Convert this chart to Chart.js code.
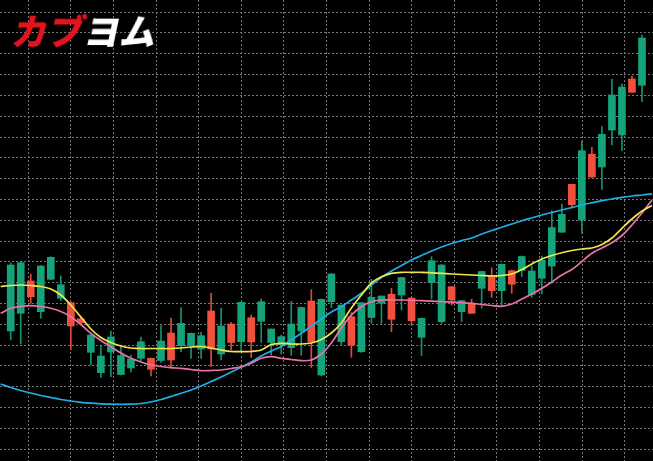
<!DOCTYPE html>
<html lang="ja">
<head>
<meta charset="utf-8">
<title>カブヨム チャート</title>
<script src="https://cdn.jsdelivr.net/npm/chart.js@4.4.1/dist/chart.umd.min.js"></script>
<style>
    html, body { margin: 0; padding: 0; background: #000; overflow: hidden; }
    #contenedor { position: relative; width: 653px; height: 461px; }
    #logo {
        position: absolute; left: 10px; top: 11px;
        font-family: "Noto Sans CJK JP", sans-serif; font-weight: 900;
        font-size: 36px; line-height: 1; white-space: nowrap;
        transform: skewX(-12deg); transform-origin: left bottom;
    }
    #logo .rojo { color: #e3141e; }
    #logo .blanco { color: #ffffff; }
</style>
</head>
<body>
<div id="contenedor">
    <canvas id="grafico"></canvas>
    <div id="logo"><span class="rojo">カブ</span><span class="blanco">ヨム</span></div>
</div>
<script>
// velas (una por posición, de izquierda a derecha)
const aperturas = [130, 147.7, 180, 149.3, 181.7, 162.7, 158.3, 142.3, 108.7, 88.3, 109, 86.5, 93, 102.7, 102.7, 100.5,
    128, 115.3, 115.3, 112, 150, 107, 137, 119.3, 143.3, 139.7, 118.5, 116.3, 113.3, 130, 160, 86,
    159.3, 119.3, 144.3, 109.3, 143.5, 157.7, 166.8, 166, 163, 123.7, 178.3, 139.3, 174.3, 149.3, 157.7, 172.7,
    185.5, 170.3, 190.3, 190.5, 166.5, 182.7, 195, 228.8, 276.7, 241, 306.8, 294, 331, 326, 382, 375.7];
const maximos = [198, 199, 187, 195.5, 204.3, 185, 159.3, 145, 127.7, 116, 130, 116, 106, 124, 103, 135.3,
    143, 153.3, 128, 128.7, 167.7, 153, 138.5, 159, 146, 162, 132, 126, 159.7, 154, 171.3, 162,
    187.5, 156, 148.3, 158.5, 181.7, 165, 172.7, 183.7, 163.5, 143, 204.5, 196.5, 174.5, 160.5, 161.7, 190,
    193.2, 197, 191, 205, 195, 205, 250.3, 257, 277, 320, 313.7, 334.3, 381.7, 377, 385, 426];
const minimos = [121, 117, 157.7, 142.7, 181.5, 160.3, 111.7, 137, 96, 83.7, 84.3, 86, 89, 100, 85, 98.7,
    93, 109.3, 102.7, 102.7, 94.5, 101, 111, 110, 103.5, 118.5, 106, 107, 105.7, 105.7, 93.5, 85,
    153.3, 116, 103.7, 108.5, 137.7, 137.7, 129.3, 151, 136, 105.5, 162, 137.7, 156, 139.3, 147.5, 152.7,
    163.5, 154.7, 167.7, 184.5, 163.5, 167, 178, 228.5, 253, 227.7, 283.5, 271.7, 316, 310.3, 368.5, 359.3];
const cierres = [196, 198.3, 164.3, 195, 203.7, 176.3, 135, 138.3, 126, 105, 124, 105.5, 102, 119.3, 91.7, 120,
    101, 137.7, 127.7, 125.3, 112, 135, 118.5, 158.7, 119, 159.3, 132, 124.3, 137, 153.5, 119.3, 161.7,
    187, 156, 116, 158.3, 163.7, 165, 141.7, 183.5, 140.3, 142.7, 200.3, 196, 161, 160.3, 147.7, 189.5,
    170.3, 196.7, 176.8, 204.5, 190, 200.7, 233.5, 246.7, 256.3, 310.3, 284, 326.7, 366, 374, 368.7, 423];

// medias móviles, desde la posición -1 hasta la 64
const mediaCorta = [174.5, 175.5, 176, 175.5, 174.5, 172, 166, 156, 144, 132, 123.5, 118.5, 115, 113, 112.5, 112.5,
    112.5, 112.5, 113, 114, 114.5, 113, 111, 109.5, 109.3, 109.5, 111, 116.5, 117.7, 117, 117, 118,
    121.5, 128, 138, 153, 166, 178, 184.3, 187.7, 188.7, 188.7, 188.7, 188.2, 187.7, 187, 186.5, 186,
    185.5, 185, 185.5, 187, 191.5, 197, 202, 205.5, 208.3, 210.5, 212, 213, 216.5, 223, 232.7, 242, 250, 255.5];
const mediaMedia = [147.7, 152.7, 154.5, 155.3, 154.5, 152.7, 149.5, 144.3, 136.5, 127.7, 120.5, 114.3, 108, 102.7, 99, 96,
    94.5, 93.3, 92.7, 91.5, 90.3, 90.5, 91, 92.5, 94.3, 97.7, 102.7, 104.3, 102.7, 101.5, 100.3, 101,
    107, 118, 133, 146, 154.3, 159.3, 161, 161, 161, 160.7, 160.3, 159.8, 159.3, 158.8, 158.3, 157.7,
    156.5, 155.5, 154.7, 157, 162, 167, 172.5, 179, 186, 191.5, 199.5, 207.7, 213, 218.3, 225.5, 236, 248, 261];
const mediaLarga = [77, 73.5, 70.5, 68, 65.5, 63.5, 61.5, 60, 58.7, 57.8, 57.2, 56.8, 56.7, 56.8, 57.5, 59,
    61.5, 64.5, 67.7, 71, 75, 79.5, 84, 89, 93.7, 99, 105, 110, 114.5, 121, 127.7, 135,
    142, 149, 154.3, 161, 167.7, 176, 183.5, 190, 195.5, 201, 205.5, 210, 214, 217.5, 220.5, 223,
    227, 230.5, 233.7, 237, 240.3, 243.2, 246, 248.5, 251, 253.5, 256, 258.2, 260.3, 262, 263.7, 265, 266, 267.2];

const verde = "#14a37b";
const rojo = "#f2503f";
const colorRejilla = "#767676";

function inicializarGrafico() {
    const velas = aperturas.map((a, i) => i);
    const sube = velas.map(i => cierres[i] >= aperturas[i]);

    const cuerpos = velas.map(i => ({ x: i, y: [aperturas[i], cierres[i]] }));
    const mechas = velas.map(i => ({ x: i, y: [minimos[i], maximos[i]] }));
    const puntosMedia = serie => serie.map((v, k) => ({ x: k - 1, y: v }));

    new Chart(document.getElementById("grafico"), {
        type: "bar",
        data: {
            datasets: [
                {
                    type: "line",
                    data: puntosMedia(mediaLarga),
                    borderColor: "#1eaee6",
                    borderWidth: 1.7,
                    pointRadius: 0,
                    tension: 0.3,
                    order: 2
                },
                {
                    type: "line",
                    data: puntosMedia(mediaMedia),
                    borderColor: "#e873aa",
                    borderWidth: 1.7,
                    pointRadius: 0,
                    tension: 0.3,
                    order: 1
                },
                {
                    type: "line",
                    data: puntosMedia(mediaCorta),
                    borderColor: "#f3e64a",
                    borderWidth: 1.7,
                    pointRadius: 0,
                    tension: 0.3,
                    order: 0
                },
                {
                    data: cuerpos,
                    backgroundColor: sube.map(s => s ? verde : rojo),
                    barThickness: 7,
                    grouped: false,
                    borderWidth: 0,
                    minBarLength: 1,
                    order: 3
                },
                {
                    data: mechas,
                    backgroundColor: sube.map(s => s ? "#12936f" : "#e0493a"),
                    barThickness: 1,
                    grouped: false,
                    borderWidth: 0,
                    order: 4
                }
            ]
        },
        options: {
            responsive: true,
            maintainAspectRatio: false,
            animation: false,
            layout: { padding: 0 },
            plugins: {
                legend: { display: false },
                tooltip: { enabled: false }
            },
            scales: {
                x: {
                    type: "linear",
                    min: -1.068,
                    max: 64.1,
                    offset: false,
                    ticks: { display: false },
                    grid: { color: colorRejilla, drawTicks: false, offset: false },
                    border: { display: false, dash: [2, 2] },
                    afterBuildTicks: escala => {
                        const marcas = [];
                        for (let v = 1.756; v < 64.1; v += 4.251) marcas.push({ value: v });
                        escala.ticks = marcas;
                    }
                },
                y: {
                    type: "linear",
                    min: 0,
                    max: 461,
                    ticks: { display: false },
                    grid: { color: colorRejilla, drawTicks: false },
                    border: { display: false, dash: [2, 2] },
                    afterBuildTicks: escala => {
                        const marcas = [];
                        for (let v = 448.8; v > 0; v -= 20.8) marcas.push({ value: v });
                        escala.ticks = marcas;
                    }
                }
            }
        }
    });
}

inicializarGrafico();
</script>
</body>
</html>
